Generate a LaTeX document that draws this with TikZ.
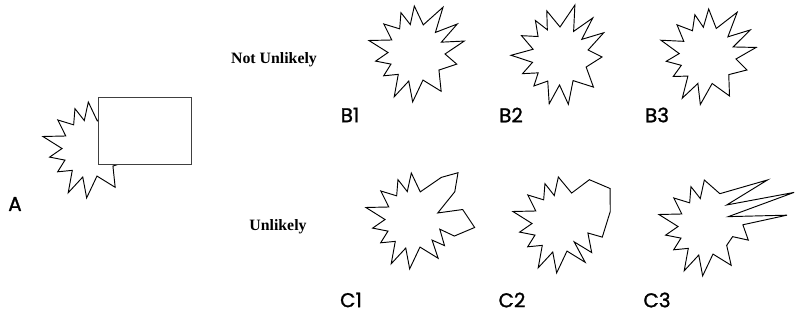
\documentclass[tikz,border=0pt]{standalone}
\usepackage{fontspec}
\newfontfamily\labfont{Poppins}[FakeBold=1.2]
\newfontfamily\capfont{Liberation Serif}
\tikzset{
  burst/.style={line width=0.8pt, line join=miter},
  lab/.style={font=\labfont\fontsize{17}{18}\selectfont, inner sep=0pt},
  captxt/.style={font=\capfont\bfseries\fontsize{13.5}{15}\selectfont, inner sep=0pt}
}
% common left half of every burst (angle/radius), starting after the lower right spike
\newcommand{\burstleft}{-75/27, -94/48, -105/28, -117/48, -131/27, -146/39, -158/27, -170/41, 177/28, 164/49, 150/28, 137/44, 123/30, 110/44, 101/30, 92/48}
\newcommand{\burstB}{76/30, 60/54, 48/29, 36/51, 25/28, 15/50, 0/29, -14/42, -35/28}
\newcommand{\burstCa}{76/30, 57/52, 47/66, 35/51, 18/26, 13/51, -6/62, -20/44, -17/28, -38/40, -45/27}
\newcommand{\burstCb}{70/34, 57/54, 36/62, 15/52, -16/44, -16/29, -41/42, -50/22}
\newcommand{\burstCc}{68/37, 38/78, 48/31, 22/95, 27/25, 9/82, 5/37, -16/44, -18/28, -40/27}
\begin{document}
\begin{tikzpicture}[x=0.03cm, y=0.03cm]
  \useasboundingbox (0,0) rectangle (795,320);
  % A
  \begin{scope}[shift={(90,170)}]
    \draw[burst] (-56:45) \foreach \a/\r in \burstleft {-- (\a:\r)} \foreach \a/\r in \burstB {-- (\a:\r)} -- cycle;
  \end{scope}
  \draw[fill=white, draw=black!75, line width=0.8pt] (98,223) rectangle (191,156);
  \node[lab] (labA) at (15,116) {A};
  % not unlikely row
  \node[captxt] (capB) at (274,260) {Not Unlikely};
  \begin{scope}[shift={(416,266)}]
    \draw[burst] (-56:45) \foreach \a/\r in \burstleft {-- (\a:\r)} \foreach \a/\r in \burstB {-- (\a:\r)} -- cycle;
  \end{scope}
  \begin{scope}[shift={(560,263)}, rotate=14]
    \draw[burst] (-56:45) \foreach \a/\r in \burstleft {-- (\a:\r)} \foreach \a/\r in \burstB {-- (\a:\r)} -- cycle;
  \end{scope}
  \begin{scope}[shift={(707,263)}, rotate=-4]
    \draw[burst] (-56:45) \foreach \a/\r in \burstleft {-- (\a:\r)} \foreach \a/\r in \burstB {-- (\a:\r)} -- cycle;
  \end{scope}
  \node[lab] (labB1) at (350,205) {B1};
  \node[lab] (labB2) at (511,205) {B2};
  \node[lab] (labB3) at (657,205) {B3};
  % unlikely row
  \node[captxt] (capC) at (278,93) {Unlikely};
  \begin{scope}[shift={(413,99)}]
    \draw[burst] (-56:45) \foreach \a/\r in \burstleft {-- (\a:\r)} \foreach \a/\r in \burstCa {-- (\a:\r)} -- cycle;
  \end{scope}
  \begin{scope}[shift={(560,95)}]
    \draw[burst] (-56:45) \foreach \a/\r in \burstleft {-- (\a:\r)} \foreach \a/\r in \burstCb {-- (\a:\r)} -- cycle;
  \end{scope}
  \begin{scope}[shift={(706,92)}]
    \draw[burst] (-56:45) \foreach \a/\r in \burstleft {-- (\a:\r)} \foreach \a/\r in \burstCc {-- (\a:\r)} -- cycle;
  \end{scope}
  \node[lab] (labC1) at (351,20) {C1};
  \node[lab] (labC2) at (512,20) {C2};
  \node[lab] (labC3) at (657,20) {C3};
\end{tikzpicture}
\end{document}
